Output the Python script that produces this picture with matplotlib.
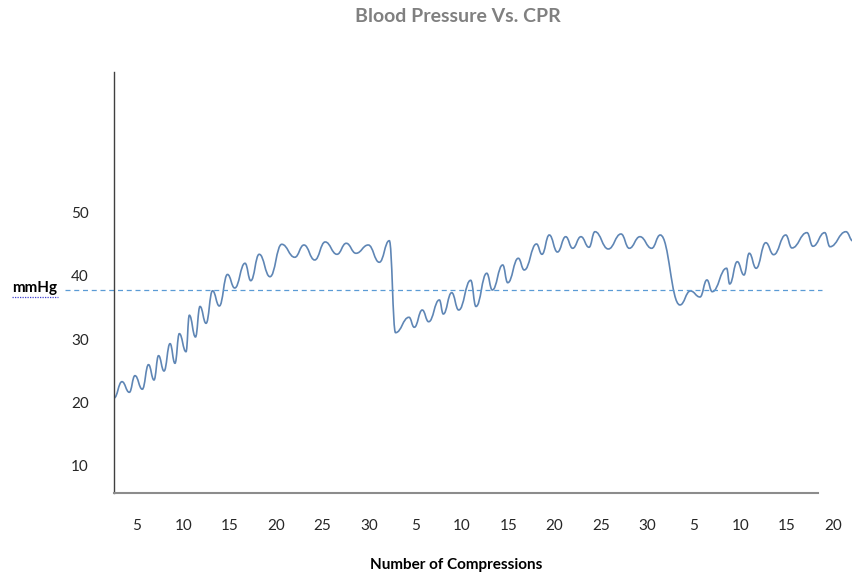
import matplotlib
matplotlib.use("Agg")
import matplotlib.pyplot as plt
from matplotlib.path import Path
from matplotlib.patches import PathPatch
from matplotlib.lines import Line2D

plt.rcParams['font.family'] = ['Lato', 'DejaVu Sans']

# ---- data (turning points of the pressure trace) ----
compressions = [2.52, 3.38, 4.17, 4.78, 5.57, 6.24, 6.83, 7.32, 7.91, 8.56,
                9.09, 9.56, 10.28, 10.64, 11.30, 11.79, 12.44, 13.14, 13.87, 14.75,
                15.53, 16.64, 17.26, 18.17, 19.33, 20.60, 22.00, 22.99, 24.15, 25.28,
                26.55, 27.55, 28.60, 29.92, 31.11, 32.19, 32.86, 34.31, 34.88, 35.74,
                36.43, 37.58, 38.01, 38.91, 39.67, 40.96, 41.53, 42.69, 43.29, 44.41,
                44.95, 46.09, 46.73, 48.05, 48.64, 49.43, 50.31, 51.20, 51.95, 52.84,
                53.71, 54.35, 55.79, 57.16, 58.05, 59.20, 60.46, 61.39, 63.51, 64.64,
                65.67, 66.42, 66.99, 68.54, 68.87, 69.69, 70.41, 70.98, 71.72, 72.76,
                73.61, 74.91, 75.58, 77.20, 77.84, 79.11, 79.68, 81.40, 82.16]
pressure = [20.71, 23.29, 21.61, 24.24, 22.10, 25.98, 23.56, 27.40, 24.98, 29.30,
            26.20, 30.88, 28.03, 33.79, 30.36, 35.18, 32.52, 37.66, 35.26, 40.24,
            38.10, 42.01, 39.26, 43.43, 39.89, 45.01, 42.96, 44.90, 42.53, 45.38,
            43.43, 45.17, 43.59, 44.90, 42.17, 45.58, 31.04, 33.47, 31.89, 34.62,
            32.77, 36.21, 33.99, 37.36, 34.62, 39.32, 35.18, 40.43, 37.79, 41.74,
            38.94, 42.80, 40.95, 45.06, 43.43, 46.48, 43.79, 46.21, 44.38, 46.21,
            44.54, 47.00, 44.27, 46.64, 44.38, 46.21, 44.38, 46.48, 35.42, 37.63,
            36.68, 39.37, 37.52, 41.22, 38.74, 42.26, 40.16, 43.59, 41.22, 45.26,
            43.37, 46.48, 44.43, 46.85, 44.70, 46.85, 44.63, 47.00, 45.53]
reference_level = 37.8
y_ticks = [10, 20, 30, 40, 50]
x_tick_pos = [5, 10, 15, 20, 25, 30, 35, 40, 45, 50, 55, 60, 65, 70, 75, 80]
x_tick_labels = ['5', '10', '15', '20', '25', '30', '5', '10', '15', '20', '25', '30',
                 '5', '10', '15', '20']

W, H = 853, 575
fig = plt.figure(figsize=(W / 100, H / 100), dpi=100)
ax = fig.add_axes([114 / W, (H - 493) / H, (853 - 114) / W, (493 - 72) / H])
ax.set_xlim(2.52, 82.16)
ax.set_ylim(5.69, 72.25)

# smooth trace through the turning points (horizontal tangents at extrema)
verts = [(compressions[0], pressure[0])]
codes = [Path.MOVETO]
k = 0.45
for i in range(1, len(compressions)):
    x0, y0 = compressions[i - 1], pressure[i - 1]
    x1, y1 = compressions[i], pressure[i]
    dx = x1 - x0
    verts += [(x0 + k * dx, y0), (x1 - k * dx, y1), (x1, y1)]
    codes += [Path.CURVE4] * 3
ax.add_patch(PathPatch(Path(verts, codes), fill=False, edgecolor='#5f86b5', lw=1.2))

# dashed reference line
ax.plot([-2.76, 78.8], [reference_level, reference_level], ls=(0, (4, 3)),
        color='#5b9bd5', lw=0.9, clip_on=False)

for s in ['top', 'right']:
    ax.spines[s].set_visible(False)
ax.spines['left'].set_color('#404040')
ax.spines['left'].set_linewidth(1.0)
ax.spines['bottom'].set_color('#8c8c8c')
ax.spines['bottom'].set_linewidth(1.5)
ax.spines['bottom'].set_bounds(2.52, 78.38)

ax.set_yticks(y_ticks)
ax.set_yticklabels([str(v) for v in y_ticks], fontsize=11, color='#262626')
ax.set_xticks(x_tick_pos)
ax.set_xticklabels(x_tick_labels, fontsize=11, color='#262626')
ax.tick_params(axis='y', length=0, pad=18)
ax.tick_params(axis='x', length=0, pad=19)

fig.text(458 / W, 1 - 17 / H, 'Blood Pressure Vs. CPR', ha='center', va='center',
         fontsize=14, fontweight='bold', color='#808080')
fig.text(456 / W, 1 - 565 / H, 'Number of Compressions', ha='center', va='center',
         fontsize=11, fontweight='bold', color='black')
fig.text(12 / W, 1 - 288 / H, 'mmHg', ha='left', va='center',
         fontsize=11, fontweight='bold', color='black')
fig.add_artist(Line2D([12 / W, 58 / W], [1 - 297 / H, 1 - 297 / H], color='#4040d0',
                      lw=0.9, ls=(0, (1, 1)), transform=fig.transFigure))

fig.savefig('out.png', dpi=100)
